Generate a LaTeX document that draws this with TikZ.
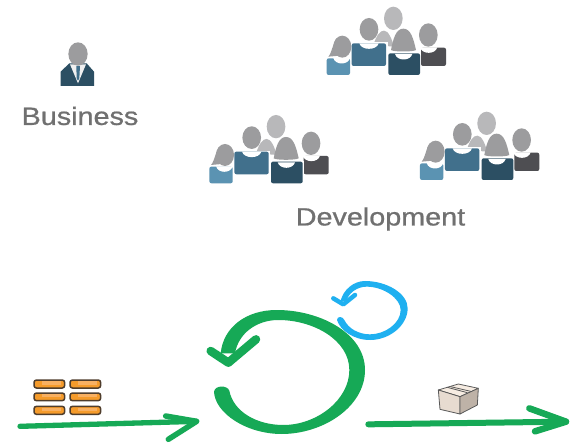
\documentclass[tikz,border=0pt]{standalone}
\usepackage{fontspec}
\setmainfont{Liberation Sans}
\newfontfamily\labelfont[FakeBold=0.7]{Liberation Sans}
\definecolor{flowgreen}{HTML}{16A956}
\definecolor{loopblue}{HTML}{1FB0F0}
\definecolor{headgray}{HTML}{9C9C9E}
\definecolor{backgray}{HTML}{B8B8BA}
\definecolor{bodymid}{HTML}{41708C}
\definecolor{bodylight}{HTML}{5B93B2}
\definecolor{bodydark}{HTML}{2C4F63}
\definecolor{bodygray}{HTML}{4E4E52}
\definecolor{labelgray}{HTML}{707070}
\definecolor{brick}{HTML}{F59B2B}
\definecolor{brickhi}{HTML}{F8B062}
\definecolor{brickedge}{HTML}{4F3D2C}
\tikzset{
  zoomed/.style={x=0.33333pt,y=-0.33333pt},
  labeltext/.style={font=\labelfont\fontsize{25}{30}\selectfont,text=labelgray,xscale=1.15,transform shape,inner sep=0pt},
  bodyshape/.style={rounded corners=2pt},
  greenstroke/.style={draw=flowgreen,line cap=round,line join=round},
  bluestroke/.style={draw=loopblue,line cap=round,line join=round},
  brickbox/.style={fill=brick,draw=brickedge,line width=1.5pt,rounded corners=2.5pt},
  boxedge/.style={draw=black!65,line width=0.8pt,line join=round}
}
% #1,#2: x of the neckline ends, #3: lowest point of the neckline
\newcommand{\neckline}[3]{\fill[white] (#1,#3-18) .. controls (#1+6,#3+4) and (#2-6,#3+4) .. (#2,#3-18) -- cycle;}
\newcommand{\teamicon}[2]{%
 \begin{scope}[shift={(#1,#2)},zoomed]
  \fill[backgray] (580,55) ellipse [x radius=28,y radius=35];
  \fill[backgray] (520,135) .. controls (530,105) and (540,92) .. (552,92) .. controls (565,92) and (575,115) .. (582,140) -- cycle;
  \fill[white] (452,127) rectangle (563,203);
  \fill[bodymid,bodyshape] (455,130) rectangle (558,198);
  \neckline{478}{536}{148}
  \fill[headgray] (507,88) ellipse [x radius=28,y radius=34];
  \fill[white] (377,172) rectangle (453,228);
  \fill[bodylight,bodyshape] (380,175) rectangle (450,225);
  \neckline{400}{450}{192}
  \fill[headgray] (385,170) .. controls (395,160) and (400,125) .. (410,115) -- (440,165) -- cycle;
  \fill[headgray] (427,140) ellipse [x radius=27,y radius=33];
  \fill[bodygray,bodyshape] (663,143) rectangle (738,198);
  \neckline{660}{712}{160}
  \fill[headgray] (685,105) ellipse [x radius=28,y radius=35];
  \fill[white] (562,157) rectangle (663,228);
  \fill[bodydark,bodyshape] (565,160) rectangle (660,225);
  \neckline{585}{637}{180}
  \fill[headgray] (610,86) .. controls (632,86) and (640,115) .. (648,150) .. controls (640,156) and (580,156) .. (573,150) .. controls (580,115) and (588,86) .. (610,86) -- cycle;
 \end{scope}}
\begin{document}
\begin{tikzpicture}[x=1pt,y=-1pt]
\useasboundingbox (0,0) rectangle (572,443);
\fill[white] (0,0) rectangle (572,443);

% business person
\begin{scope}[shift={(10,30)},zoomed]
  \fill[bodydark] (152,168) -- (152,125) -- (178,100) -- (230,100) -- (252,125) -- (252,168) -- cycle;
  \fill[white!88!gray] (180,103) -- (204,160) -- (228,103) -- cycle;
  \fill[bodymid] (199,108) -- (210,108) -- (208,145) -- (204,152) -- (200,145) -- cycle;
  \fill[headgray] (204,72) ellipse [x radius=29,y radius=35];
\end{scope}
\node[labeltext] (business) at (80,116) {Business};

% teams
\teamicon{200}{0}
\teamicon{82.7}{108.3}
\teamicon{293.3}{105}
\node[labeltext] (development) at (380.5,219) {Development};

% bricks
\begin{scope}[shift={(0,360)},zoomed]
  \foreach \ya/\yb in {60/84,99/122,139/163}{
    \foreach \xa/\xb in {102/194,210/302}{
      \fill[brickbox] (\xa,\ya) rectangle (\xb,\yb);
      \fill[brickhi] (\xa+25,\ya+4) rectangle (\xb-12,\yb-10);
    }}
\end{scope}

% incoming arrow
\begin{scope}[shift={(0,360)},zoomed]
  \coordinate (instart) at (60,199);
  \coordinate (inend) at (590,184);
  \coordinate (inbarbA) at (497,168);
  \coordinate (inbarbB) at (505,238);
  \draw[greenstroke,line width=5.3pt] (instart) -- (inend);
  \draw[greenstroke,line width=5.5pt] (inbarbA) -- (inend) -- (inbarbB);
\end{scope}

% big green loop
\begin{scope}[shift={(190,270)},zoomed]
  \fill[flowgreen] (72,365) .. controls (75,430) and (170,492) .. (275,492)
    .. controls (400,492) and (525,410) .. (525,300)
    .. controls (525,190) and (390,120) .. (260,120)
    .. controls (170,120) and (100,170) .. (92,250) -- (135,250)
    .. controls (145,190) and (200,150) .. (265,150)
    .. controls (370,150) and (478,210) .. (478,300)
    .. controls (478,390) and (380,465) .. (280,465)
    .. controls (200,465) and (130,425) .. (118,362)
    .. controls (112,345) and (75,345) .. (72,365) -- cycle;
  \coordinate (bigA) at (62,243);
  \coordinate (bigB) at (115,278);
  \coordinate (bigC) at (198,208);
  \draw[greenstroke,line width=8.5pt] (bigA) -- (bigB) -- (bigC);
\end{scope}

% blue loop
\begin{scope}[shift={(190,270)},zoomed]
  \fill[loopblue] (441,150) .. controls (450,180) and (490,210) .. (540,210)
    .. controls (600,210) and (653,165) .. (653,115)
    .. controls (653,70) and (590,33) .. (525,33)
    .. controls (490,33) and (460,60) .. (452,92) -- (468,95)
    .. controls (475,70) and (500,50) .. (530,50)
    .. controls (580,50) and (632,85) .. (632,120)
    .. controls (632,160) and (585,193) .. (540,193)
    .. controls (505,193) and (475,175) .. (463,150)
    .. controls (458,138) and (441,138) .. (441,150) -- cycle;
  \coordinate (smallA) at (430,85);
  \coordinate (smallB) at (460,103);
  \coordinate (smallC) at (495,75);
  \draw[bluestroke,line width=4.5pt] (smallA) -- (smallB) -- (smallC);
\end{scope}

% parcel
\begin{scope}[shift={(360,370)},zoomed]
  \fill[white!85!brown,boxedge] (235,60) -- (295,42) -- (355,55) -- (300,80) -- cycle;
  \fill[white!80!brown!90!gray,boxedge] (235,60) -- (300,80) -- (300,132) -- (240,118) -- cycle;
  \fill[brown!30!gray!60!white,boxedge] (300,80) -- (355,55) -- (352,105) -- (300,132) -- cycle;
  \draw[boxedge] (262,52) -- (322,68);
  \draw[boxedge] (272,50) -- (332,64);
\end{scope}

% outgoing arrow
\begin{scope}[shift={(360,370)},zoomed]
  \coordinate (outstart) at (25,163);
  \coordinate (outend) at (618,155);
  \coordinate (outbarbA) at (508,115);
  \coordinate (outbarbB) at (525,184);
  \draw[greenstroke,line width=6pt] (outstart) -- (outend);
  \draw[greenstroke,line width=6.5pt] (outbarbA) -- (outend) -- (outbarbB);
\end{scope}
\end{tikzpicture}
\end{document}
